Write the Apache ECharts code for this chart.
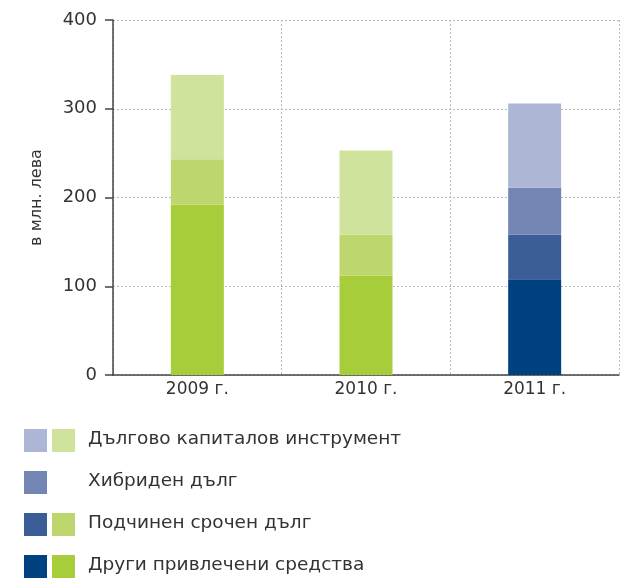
<!DOCTYPE html>
<html>
<head>
<meta charset="utf-8">
<script src="https://cdn.jsdelivr.net/npm/echarts@6/dist/echarts.min.js"></script>
<style>
  html, body { margin: 0; padding: 0; background: #fff; }
  #chart { width: 634px; height: 580px; }
</style>
</head>
<body>
<div id="chart"></div>
<script>
// values (млн. лева)
const years = ['2009 г.', '2010 г.', '2011 г.'];
const yTicks = [0, 100, 200, 300, 400];

// green bars (2009, 2010)
const greenOther = [192, 112, null];
const greenSub = [51, 46, null];
const greenHybridCap = [95, 95, null];

// blue bars (2011)
const blueOther = [null, null, 108];
const blueSub = [null, null, 50];
const blueHybrid = [null, null, 53];
const blueHybridCap = [null, null, 95];

const names = [
    'Дългово капиталов инструмент',
    'Хибриден дълг',
    'Подчинен срочен дълг',
    'Други привлечени средства'
];
const blueColors = ['#adb6d4', '#7385b3', '#3c5e98', '#00417f'];
const greenColors = ['#d0e39c', null, '#bdd66e', '#a8cd3a'];

const font = '"DejaVu Sans", sans-serif';
const textColor = '#333';

function bar(name, data, color) {
    return {
        name: name,
        type: 'bar',
        stack: 'total',
        barWidth: 53,
        data: data,
        itemStyle: { color: color },
        emphasis: { disabled: true }
    };
}

// hand-made legend: two swatches per row, label after them
const legendItems = [];
names.forEach((n, i) => {
    const top = 429 + i * 42;
    legendItems.push({
        type: 'rect', left: 24, top: top,
        shape: { width: 23, height: 23 },
        style: { fill: blueColors[i] }
    });
    if (greenColors[i]) {
        legendItems.push({
            type: 'rect', left: 52, top: top,
            shape: { width: 23, height: 23 },
            style: { fill: greenColors[i] }
        });
    }
    legendItems.push({
        type: 'text', left: 88, top: top + 1,
        style: { text: n, fill: textColor, font: '18.5px ' + font }
    });
});

const chart = echarts.init(document.getElementById('chart'));
chart.setOption({
    animation: false,
    textStyle: { fontFamily: font },
    grid: { left: 113, right: 15, top: 20, bottom: 205 },
    xAxis: {
        type: 'category',
        data: years,
        axisLine: { lineStyle: { color: '#444', width: 1.5 } },
        axisTick: { length: 8, lineStyle: { color: '#444', width: 1.5 } },
        axisLabel: { color: textColor, fontSize: 17, margin: 6 },
        splitLine: { show: true, lineStyle: { color: '#bbb', type: [2, 2] } }
    },
    yAxis: {
        type: 'value',
        min: yTicks[0],
        max: yTicks[yTicks.length - 1],
        interval: 100,
        name: 'в млн. лева',
        nameLocation: 'middle',
        nameRotate: 90,
        nameGap: 68,
        nameTextStyle: { color: textColor, fontSize: 16 },
        axisLine: { show: true, lineStyle: { color: '#444', width: 1.5 } },
        axisTick: { show: true, length: 8, lineStyle: { color: '#444', width: 1.5 } },
        axisLabel: { color: textColor, fontSize: 18, margin: 16 },
        splitLine: { show: true, lineStyle: { color: '#bbb', type: [2, 2] } }
    },
    graphic: legendItems,
    series: [
        bar(names[3], greenOther, greenColors[3]),
        bar(names[2], greenSub, greenColors[2]),
        bar(names[0], greenHybridCap, greenColors[0]),
        bar(names[3] + ' ', blueOther, blueColors[3]),
        bar(names[2] + ' ', blueSub, blueColors[2]),
        bar(names[1], blueHybrid, blueColors[1]),
        bar(names[0] + ' ', blueHybridCap, blueColors[0])
    ]
});
</script>
</body>
</html>
